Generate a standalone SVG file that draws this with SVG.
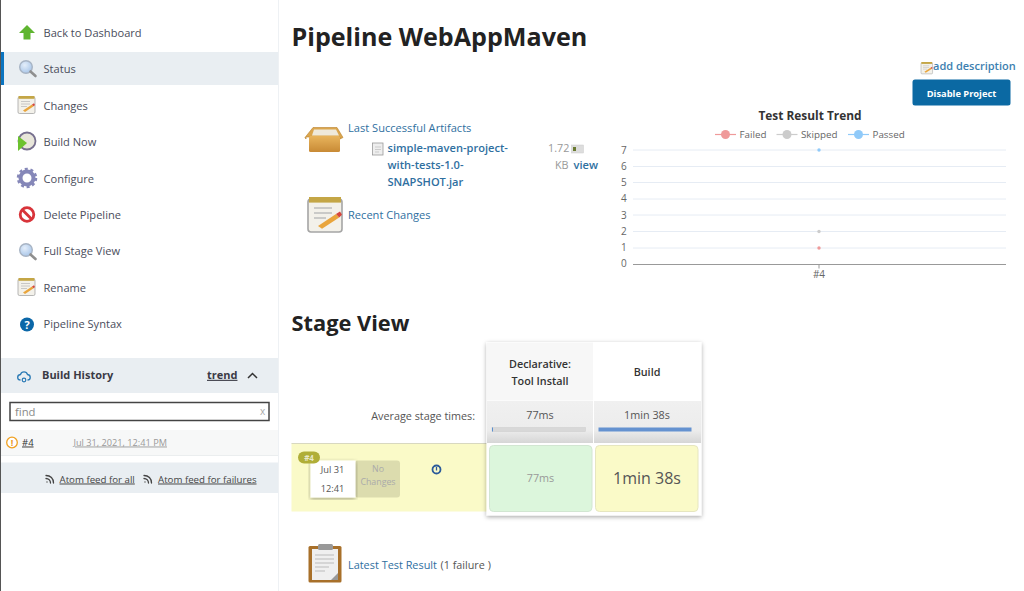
<svg xmlns="http://www.w3.org/2000/svg" width="1024" height="591" viewBox="0 0 1024 591">
<style>
text{font-family:"Open Sans","Noto Sans","Liberation Sans",sans-serif;fill:#333}
.nav{font-size:11.1px;fill:#4a4d5c}
.lnk{font-size:11.1px;fill:#2f6f9f}
.b{font-weight:700}
.s{font-weight:600}
.ax{font-size:10px;fill:#666}
.g{stroke:#e6ecf4;stroke-width:1}
.m{text-anchor:middle}
.u{text-decoration:underline}
</style>
<defs>
<filter id="sh" x="-5%" y="-5%" width="110%" height="110%"><feDropShadow dx="0" dy="1.500" stdDeviation="2.200" flood-color="#000" flood-opacity=".35"/></filter>
<linearGradient id="gr" x1="0" y1="0" x2="0" y2="1"><stop offset="0" stop-color="#f0f0f0"/><stop offset=".7" stop-color="#ececec"/><stop offset="1" stop-color="#d6d6d6"/></linearGradient>
<linearGradient id="box" x1="0" y1="0" x2="0" y2="1"><stop offset="0" stop-color="#e8b45c"/><stop offset="1" stop-color="#c88a35"/></linearGradient>
<radialGradient id="lens" cx=".4" cy=".35" r=".7"><stop offset="0" stop-color="#e4eefa"/><stop offset="1" stop-color="#a6c4e8"/></radialGradient>
<g id="note"><rect x="0" y="1" width="17" height="16.500" rx="1.500" fill="#f3f1ea" stroke="#a5a5a5" stroke-width=".8"/><rect x="0.500" y="0" width="16" height="2.800" fill="#c4a646"/><path d="M3 5.500h9M3 8h9M3 10.500h6" stroke="#bdbdbd" stroke-width=".8"/><path d="M5 14.500l9-6 1.600 1.800-8.600 5.600z" fill="#e9a53c"/><path d="M14 8.500l2-1.300 1 1.700-1.400 1.400z" fill="#d6453d"/></g>
<g id="mag"><circle cx="8" cy="7" r="6.300" fill="url(#lens)" stroke="#a8b4c4" stroke-width="1.400"/><path d="M12.500 11.500l5 4.500" stroke="#8f8f8f" stroke-width="2.600" stroke-linecap="round"/></g>
<path id="rss" d="M0 1.500c4.500 0 7.500 3 7.500 7.500M0 4.500c2.500 0 4.500 2 4.500 4.500M1 8v.01" fill="none" stroke="#444" stroke-width="1.300" stroke-linecap="round"/>
</defs>
<rect width="1024" height="591" fill="#fff"/>

<g id="sidebar">
<rect x="0" y="0" width="1" height="591" fill="#555"/>
<rect x="278" y="0" width="1" height="591" fill="#eef1f4"/>
<rect x="1" y="52" width="277" height="33" fill="#e9eef2"/>
<rect x="1" y="52" width="3" height="33" fill="#0b74c0"/>
</g>

<g id="nav-back"><path d="M27 25l8 8h-4.500v6.500h-7V33H19z" fill="#5fb530"/><text class="nav" x="43.500" y="36.800">Back to Dashboard</text></g>
<g id="nav-status"><use href="#mag" x="18" y="60"/><text class="nav" x="43.500" y="73">Status</text></g>
<g id="nav-changes"><use href="#note" x="18" y="96"/><text class="nav" x="43.500" y="109.500">Changes</text></g>
<g id="nav-build"><circle cx="27" cy="141" r="8.500" fill="#e8e6da" stroke="#77708f" stroke-width="1.800"/><path d="M18 136l9 7-9 8z" fill="#6cc22f"/><text class="nav" x="43.500" y="145.800">Build Now</text></g>
<g id="nav-configure"><circle cx="27" cy="178" r="6.500" fill="none" stroke="#8587b8" stroke-width="4"/><circle cx="27" cy="178" r="9" fill="none" stroke="#8587b8" stroke-width="2.500" stroke-dasharray="3 2.700"/><text class="nav" x="43.500" y="182.500">Configure</text></g>
<g id="nav-delete"><circle cx="27" cy="214.500" r="6.800" fill="#fff" stroke="#d8343a" stroke-width="2.800"/><path d="M22 209.500l10 10" stroke="#d8343a" stroke-width="2.800"/><text class="nav" x="43.500" y="218.800">Delete Pipeline</text></g>
<g id="nav-stage"><use href="#mag" x="18" y="243"/><text class="nav" x="43.500" y="255.300">Full Stage View</text></g>
<g id="nav-rename"><use href="#note" x="18" y="278"/><text class="nav" x="43.500" y="291.500">Rename</text></g>
<g id="nav-syntax"><circle cx="27" cy="324.500" r="7" fill="#0b67a8"/><text x="27" y="328.500" class="m b" style="font-size:11px;fill:#fff">?</text><text class="nav" x="43.500" y="328.300">Pipeline Syntax</text></g>

<g id="build-history">
<rect x="1" y="358" width="277" height="35" fill="#e9eef2"/>
<path d="M20.500 380c-3.500 0-4-5 0-5.500 1-3.500 6-3.500 7 0 3.800.5 3.500 5.500 0 5.500" fill="none" stroke="#2a7ab5" stroke-width="1.300"/><circle cx="24" cy="380" r="1.800" fill="none" stroke="#2a7ab5" stroke-width="1.200"/>
<text x="42" y="378.800" class="b" style="font-size:11px;fill:#3a3a45">Build History</text>
<text x="207" y="378.800" class="b u" style="font-size:11px;fill:#3a3a45">trend</text>
<path d="M248 378l4.500-4.500 4.500 4.500" fill="none" stroke="#333" stroke-width="1.500"/>
<rect x="10" y="402.500" width="259" height="18" fill="#fff" stroke="#444" stroke-width="1.500"/>
<text x="15" y="416" style="font-size:11.300px;fill:#8a8a8a">find</text>
<text x="260" y="415" style="font-size:10px;fill:#aaa">x</text>
<rect x="1" y="430" width="277" height="26" fill="#f7f8f8"/>
<rect x="1" y="455" width="277" height="1" fill="#ebeeef"/>
<circle cx="12" cy="442.500" r="5.300" fill="#fff" stroke="#f0a020" stroke-width="1.300"/><text x="12" y="446" class="m b" style="font-size:9px;fill:#e8961c">!</text>
<text x="22" y="445.500" class="u" style="font-size:9.500px;fill:#333">#4</text>
<text x="73.500" y="445.500" class="u" style="font-size:9.200px;fill:#999">Jul 31, 2021, 12:41 PM</text>
<rect x="1" y="462.500" width="277" height="30.500" fill="#e9eef2"/>
<use href="#rss" x="46" y="474"/>
<text x="59.500" y="482.500" class="u" style="font-size:9.700px;fill:#444">Atom feed for all</text>
<use href="#rss" x="144" y="474"/>
<text x="158" y="482.500" class="u" style="font-size:9.700px;fill:#444">Atom feed for failures</text>
</g>

<text id="title" x="291.500" y="45.500" class="b" style="font-size:25.100px;fill:#222">Pipeline WebAppMaven</text>

<g id="add-description"><use href="#note" transform="translate(921 62) scale(.68)"/><text x="933" y="70.300" class="s" style="font-size:11px;fill:#3d7fb0">add description</text></g>
<g id="disable-project"><rect x="912.500" y="79.500" width="98" height="26" rx="2.500" fill="#0b69a3"/><text x="961.500" y="96.500" class="m b" style="font-size:9.300px;fill:#fff">Disable Project</text></g>

<g id="artifacts">
<path d="M305 137.500l8-10h24l6 10-3 1.500v-2h-34v2z" fill="#dba64e" stroke="#b97f2a" stroke-width=".6"/><path d="M314 129.500h22l3 6h-27z" fill="#efe9da"/><rect x="309" y="136" width="31" height="16" rx="1.500" fill="url(#box)"/>
<text x="348" y="132" class="lnk">Last Successful Artifacts</text>
<rect x="372.500" y="143" width="10.500" height="12" fill="#eee" stroke="#999" stroke-width=".8"/><path d="M375 147h6M375 149.500h6M375 152h4" stroke="#bbb" stroke-width=".7"/>
<text x="387.500" y="151.500" class="lnk s">simple-maven-project-</text>
<text x="387.500" y="169" class="lnk s">with-tests-1.0-</text>
<text x="387.500" y="186" class="lnk s">SNAPSHOT.jar</text>
<text x="548" y="151.500" style="font-size:10.800px;fill:#999">1.72</text>
<rect x="571.500" y="145" width="12" height="8" fill="#ddd" stroke="#ccc" stroke-width=".5"/><rect x="573" y="147" width="3" height="4" fill="#6a7a30"/>
<text x="555" y="169" style="font-size:10.800px;fill:#999">KB</text>
<text x="573.500" y="169" class="lnk s">view</text>
</g>

<g id="recent-changes">
<use href="#note" transform="translate(308 197) scale(2)"/>
<text x="348" y="219" class="lnk">Recent Changes</text>
</g>

<g id="trend-chart">
<text x="810" y="119.800" class="m b" style="font-size:11.900px;fill:#333">Test Result Trend</text>
<path d="M715 134.500h21" stroke="#ef9a9a" stroke-width="1.200"/><circle cx="725.500" cy="134.500" r="4.500" fill="#ef9a9a"/>
<text x="739.500" y="138" style="font-size:9.800px;fill:#666">Failed</text>
<path d="M776.500 134.500h21" stroke="#ccc" stroke-width="1.200"/><circle cx="787" cy="134.500" r="4.500" fill="#ccc"/>
<text x="801" y="138" style="font-size:9.800px;fill:#666">Skipped</text>
<path d="M848 134.500h21" stroke="#90caf9" stroke-width="1.200"/><circle cx="858.500" cy="134.500" r="4.500" fill="#90caf9"/>
<text x="872.500" y="138" style="font-size:9.800px;fill:#666">Passed</text>
<path class="g" d="M633 150h373M633 166.500h373M633 182.500h373M633 199h373M633 215h373M633 231.500h373M633 248h373"/>
<path d="M633 264.500h373M819 264.500v4" stroke="#999" stroke-width="1"/>
<text class="ax" x="621" y="153.500">7</text><text class="ax" x="621" y="170">6</text><text class="ax" x="621" y="185.500">5</text><text class="ax" x="621" y="202">4</text><text class="ax" x="621" y="218.500">3</text><text class="ax" x="621" y="234.500">2</text><text class="ax" x="621" y="251">1</text><text class="ax" x="621" y="267">0</text>
<circle cx="819" cy="150" r="1.700" fill="#90caf9"/><circle cx="819" cy="231.500" r="1.700" fill="#ccc"/><circle cx="819" cy="248" r="1.700" fill="#ef9a9a"/>
<text class="ax m" x="819" y="277.500">#4</text>
</g>

<text id="stage-title" x="291.500" y="330.500" class="b" style="font-size:21.800px;fill:#222">Stage View</text>

<g id="stage-view">
<rect x="291.500" y="443.500" width="196" height="68" fill="#fafac8"/>
<rect x="291.500" y="443" width="196" height="1" fill="#d8d8c0"/>
<text x="475" y="420" text-anchor="end" style="font-size:10.800px;fill:#555">Average stage times:</text>
<rect x="486.500" y="342" width="215" height="173.500" fill="#fff" filter="url(#sh)"/>
<rect x="487" y="342.500" width="106" height="58" fill="#f7f7f7"/>
<rect x="487" y="401" width="106" height="42" fill="url(#gr)"/>
<rect x="594" y="401" width="107" height="42" fill="url(#gr)"/>
<text x="540" y="367.500" class="m s" style="font-size:10.800px;fill:#333">Declarative:</text>
<text x="540" y="385" class="m s" style="font-size:10.800px;fill:#333">Tool Install</text>
<text x="647" y="376" class="m s" style="font-size:10.800px;fill:#333">Build</text>
<text x="540" y="419" class="m" style="font-size:10.800px;fill:#555">77ms</text>
<text x="647" y="419" class="m" style="font-size:10.800px;fill:#555">1min 38s</text>
<rect x="492" y="427.500" width="93.500" height="4" fill="#d8d8d8" stroke="#ccc" stroke-width=".5"/><rect x="492" y="427.500" width="1" height="4" fill="#5b8fd0"/>
<rect x="598.500" y="427.500" width="93" height="4" fill="#6592d0"/>
<rect x="489.500" y="445.500" width="102.500" height="66" rx="4" fill="#dcf6dc" stroke="#d2e6d2"/>
<text x="540.500" y="482" class="m" style="font-size:10.800px;fill:#999">77ms</text>
<rect x="595.500" y="445.500" width="102.500" height="66" rx="4" fill="#fafac8" stroke="#e6e6c0"/>
<text x="647" y="484" class="m" style="font-size:16px;fill:#555">1min 38s</text>
</g>

<g id="build-row">
<rect x="355" y="460.500" width="45" height="37" rx="3" fill="#dcdcae"/>
<text x="378" y="472" class="m" style="font-size:8.800px;fill:#aaa">No</text>
<text x="378" y="485" class="m" style="font-size:8.800px;fill:#aaa">Changes</text>
<rect x="310.500" y="460.500" width="45" height="37" fill="#fff" filter="url(#sh)"/>
<text x="332.500" y="473" class="m" style="font-size:9.300px;fill:#555">Jul 31</text>
<text x="332.500" y="491.500" class="m" style="font-size:9.300px;fill:#555">12:41</text>
<rect x="298" y="451.500" width="22" height="12" rx="6" fill="#b0ae38"/>
<text x="309" y="460.800" class="m b" style="font-size:8px;fill:#e8e8c8">#4</text>
<circle cx="436.500" cy="469.500" r="4" fill="none" stroke="#2a5a9a" stroke-width="1.800"/><path d="M436.500 467v3.500" stroke="#2a5a9a" stroke-width="1.300"/>
</g>

<g id="latest-test">
<rect x="308.500" y="546" width="33" height="36.500" rx="1.500" fill="#a8702a"/><rect x="312" y="549" width="26" height="31" fill="#efefef"/><rect x="318" y="544" width="15" height="6" rx="1.500" fill="#999"/><path d="M315 555h19M315 559h19M315 563h19M315 567h14M315 571h10" stroke="#bbb"/><path d="M338 580v-7l-7 7z" fill="#999"/>
<text x="348" y="569" class="lnk" style="font-size:10.900px">Latest Test Result</text>
<text x="440.500" y="569" style="font-size:10.800px;fill:#555">(1 failure )</text>
</g>
</svg>
